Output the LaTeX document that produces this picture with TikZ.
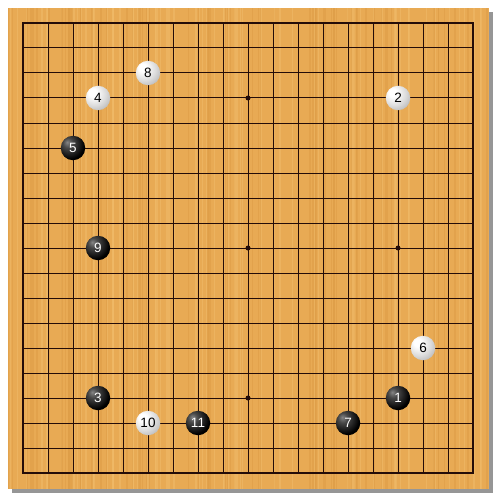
\documentclass[tikz,border=0pt]{standalone}
\usepackage{fontspec}
\setsansfont{Liberation Sans}
\usetikzlibrary{shadings}
\definecolor{wood}{RGB}{232,170,84}
\definecolor{woodlight}{RGB}{240,186,104}
\definecolor{wooddark}{RGB}{222,158,72}
\definecolor{gridc}{RGB}{36,12,8}
\definecolor{shadowc}{RGB}{150,150,150}
\pgfdeclareradialshading{whitestone}{\pgfpoint{-12bp}{12bp}}{%
  color(0bp)=(white); color(8bp)=(white); color(24bp)=(white!86!black); color(40bp)=(white!68!black); color(52bp)=(white!56!black); color(80bp)=(white!55!black)}
\pgfdeclareradialshading{blackstone}{\pgfpoint{-12bp}{12bp}}{%
  color(0bp)=(white!52!black); color(10bp)=(white!28!black); color(30bp)=(black); color(52bp)=(black); color(62bp)=(white!15!black); color(80bp)=(white!15!black)}
\tikzset{
  gridline/.style={draw=gridc, line width=1pt},
  stonebase/.style={circle, minimum size=24.5pt, inner sep=0pt, font=\sffamily\fontsize{13.5}{13.5}\selectfont},
  wstone/.style={stonebase, shading=whitestone, text=black},
  bstone/.style={stonebase, shading=blackstone, text=white},
  hoshi/.style={circle, fill=gridc, minimum size=5pt, inner sep=0pt}
}
\begin{document}
\begin{tikzpicture}[x=1pt,y=-1pt]
\useasboundingbox (0,0) rectangle (500,500);
\fill[white] (0,0) rectangle (500,500);
% shadow
\fill[shadowc] (12,12) rectangle (493,493);
% board
\fill[wood] (8,8) rectangle (489,489);
% wood grain
\pgfmathsetseed{7}
\foreach \i in {1,...,140}{
  \pgfmathsetmacro{\gx}{8+479*rnd}
  \pgfmathsetmacro{\gw}{0.6+1.6*rnd}
  \pgfmathsetmacro{\gc}{rnd}
  \ifdim\gc pt<0.5pt
    \fill[woodlight, opacity=0.6] (\gx,8) rectangle ({\gx+\gw},489);
  \else
    \fill[wooddark, opacity=0.6] (\gx,8) rectangle ({\gx+\gw},489);
  \fi
}
% grid
\foreach \k in {0,...,18}{
  \draw[gridline] ({23+25*\k},23) -- ({23+25*\k},473);
  \draw[gridline] (23,{23+25*\k}) -- (473,{23+25*\k});
}
\draw[draw=gridc, line width=1.3pt] (23,23) rectangle (473,473);
% star points
\foreach \px/\py [count=\n] in {98/98,248/98,398/98,98/248,248/248,398/248,98/398,248/398,398/398}{
  \node[hoshi] (h\n) at (\px,\py) {};
}
% stones
\node[bstone] (s1) at (398,398) {1};
\node[wstone] (s2) at (398,98) {2};
\node[bstone] (s3) at (98,398) {3};
\node[wstone] (s4) at (98,98) {4};
\node[bstone] (s5) at (73,148) {5};
\node[wstone] (s6) at (423,348) {6};
\node[bstone] (s7) at (348,423) {7};
\node[wstone] (s8) at (148,73) {8};
\node[bstone] (s9) at (98,248) {9};
\node[wstone] (s10) at (148,423) {10};
\node[bstone] (s11) at (198,423) {11};
\end{tikzpicture}
\end{document}
